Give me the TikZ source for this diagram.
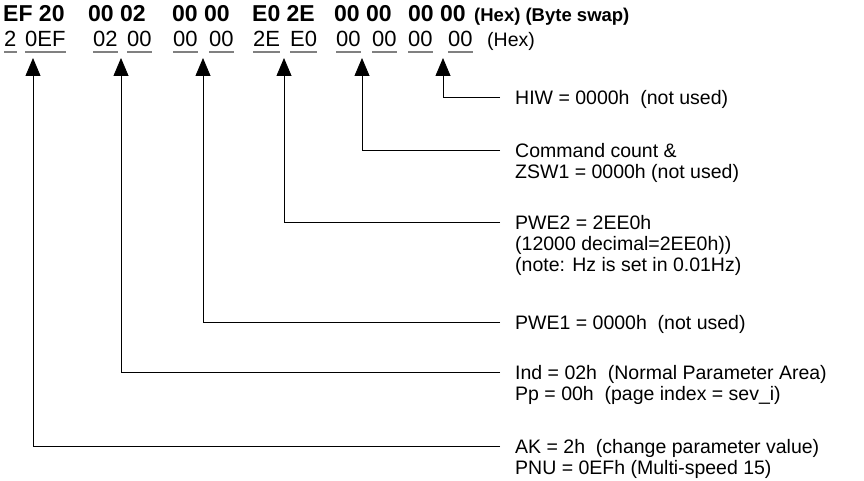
\documentclass[tikz,border=0pt]{standalone}
\usepackage{fontspec}
\setmainfont{Liberation Sans}
\usetikzlibrary{arrows.meta, calc}
\definecolor{ulgray}{RGB}{128,128,128}

\begin{document}
\begin{tikzpicture}[x=1pt, y=-1pt,
        hexb/.style={anchor=base west, inner sep=0pt, font=\fontsize{23}{26}\selectfont\bfseries},
        hexn/.style={anchor=base west, inner sep=0pt, font=\fontsize{22}{26}\selectfont},
        hexword/.style={anchor=base west, inner sep=0pt, font=\fontsize{19.5}{21}\selectfont},
        lbl/.style={anchor=north west, inner sep=0pt, align=left, font=\fontsize{19.5}{21}\selectfont},
        conn/.style={draw=black, line width=0.8pt, -{Triangle[length=18pt, width=15pt]}},
        uline/.style={draw=ulgray, line width=1.6pt}
    ]
        \useasboundingbox (0,0) rectangle (864,481);

        % swapped bytes (bold) and plain bytes
        \foreach \x/\t [count=\i] in {3/EF 20, 88/00 02, 172/00 00, 252/E0 2E, 334/00 00, 408/00 00}
            \node[hexb] (sw\i) at (\x,22) {\t};
        \node[hexword, font=\fontsize{18.5}{21}\selectfont\bfseries] (swnote) at (474,22) {(Hex) (Byte swap)};

        \foreach \x/\t [count=\i] in {4/2, 25/0EF, 93/02, 127/00, 173/00, 209/00, 253/2E, 290/E0, 336/00, 372/00, 408/00, 448/00}{
            \node[hexn] (byte\i) at (\x,47) {\t};
            \draw[uline] ([yshift=-5pt]byte\i.base west) -- ([yshift=-5pt]byte\i.base east);
        }
        \node[hexword] (hexnote) at (487,47) {(Hex)};

        \node[lbl] (hiw) at (515,90) {HIW = 0000h~ (not used)};
        \node[lbl] (zsw) at (515,143) {Command count \&\\ZSW1 = 0000h (not used)};
        \node[lbl] (pwetwo) at (515,215) {PWE2 = 2EE0h\\(12000 decimal=2EE0h))\\(note: Hz is set in 0.01Hz)};
        \node[lbl] (pweone) at (515,315) {PWE1 = 0000h~ (not used)};
        \node[lbl] (ind) at (515,365) {Ind = 02h~ (Normal Parameter Area)\\Pp = 00h~ (page index = sev\_i)};
        \node[lbl] (ak) at (515,439) {AK = 2h~ (change parameter value)\\PNU = 0EFh (Multi-speed 15)};

        \coordinate (hiwend) at ([xshift=-15pt, yshift=-7pt]hiw.north west);
        \coordinate (zswend) at ([xshift=-15pt, yshift=-7pt]zsw.north west);
        \coordinate (pwetwoend) at ([xshift=-15pt, yshift=-7pt]pwetwo.north west);
        \coordinate (pweoneend) at ([xshift=-15pt, yshift=-7pt]pweone.north west);
        \coordinate (indend) at ([xshift=-15pt, yshift=-7pt]ind.north west);
        \coordinate (akend) at ([xshift=-15pt, yshift=-7pt]ak.north west);

        \coordinate (hiwtip) at (443,58);
        \coordinate (zswtip) at (362,58);
        \coordinate (pwetwotip) at (284,58);
        \coordinate (pweonetip) at (203,58);
        \coordinate (indtip) at (121,58);
        \coordinate (aktip) at (33,58);

        \draw[conn] (hiwend) -| (hiwtip);
        \draw[conn] (zswend) -| (zswtip);
        \draw[conn] (pwetwoend) -| (pwetwotip);
        \draw[conn] (pweoneend) -| (pweonetip);
        \draw[conn] (indend) -| (indtip);
        \draw[conn] (akend) -| (aktip);
    \end{tikzpicture}
\end{document}
